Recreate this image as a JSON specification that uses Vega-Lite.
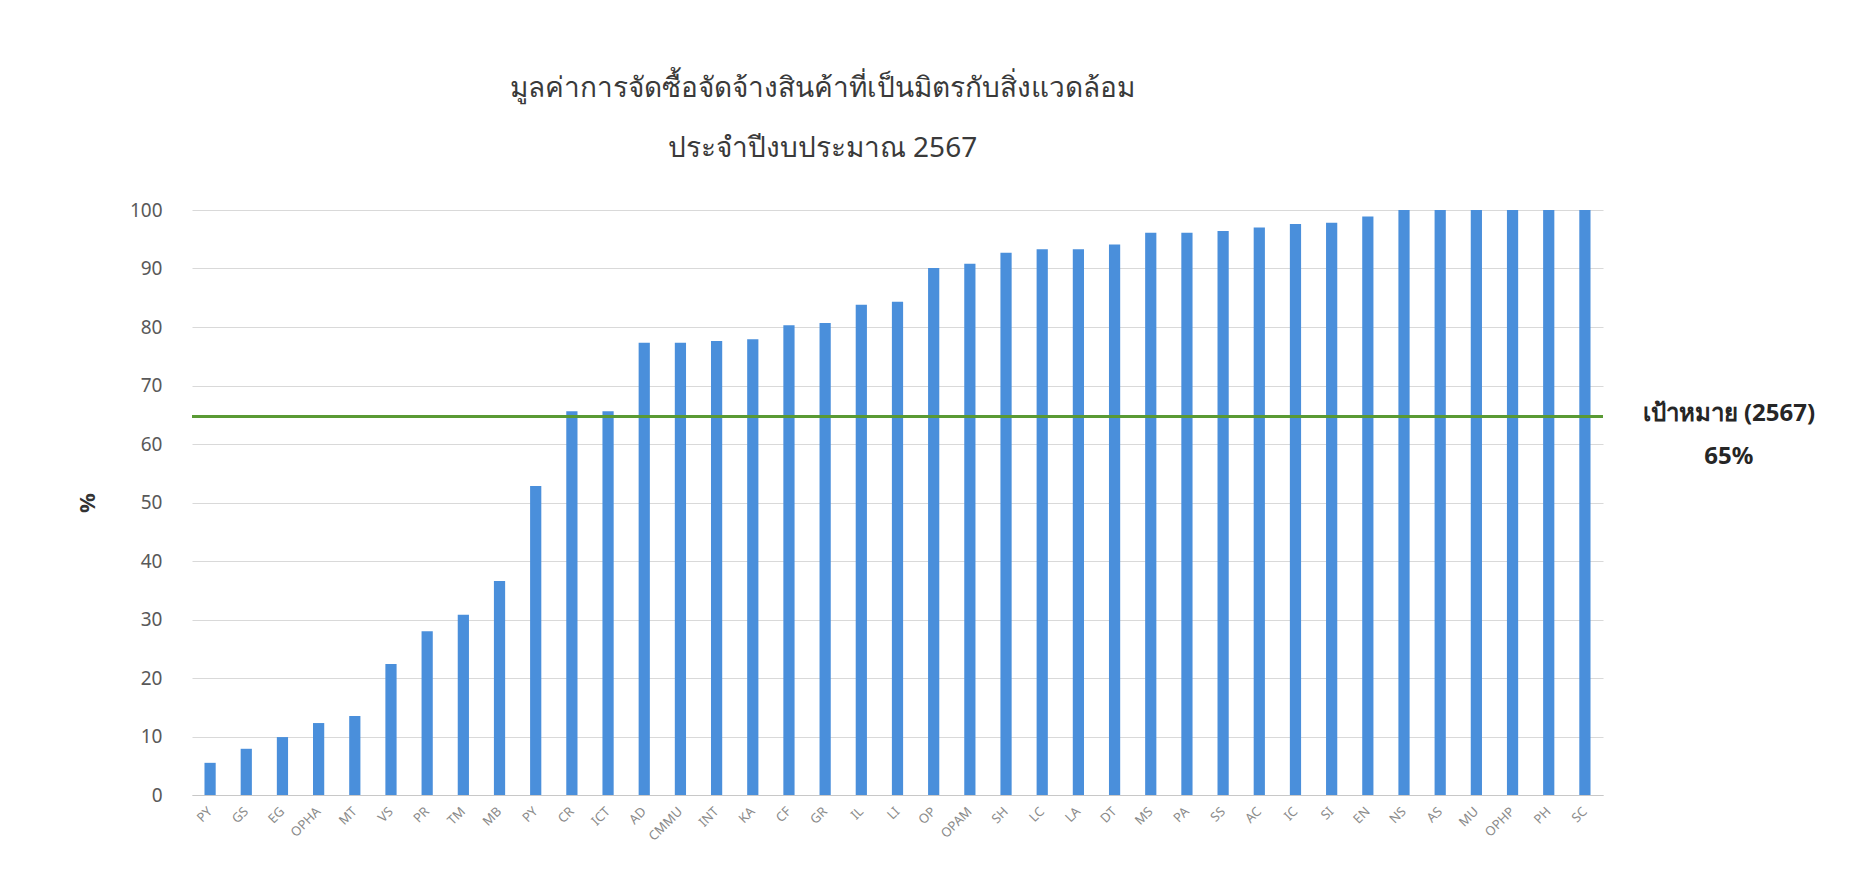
{
  "$schema": "https://vega.github.io/schema/vega-lite/v6.json",
  "autosize": {"type": "none"},
  "width": 1411,
  "height": 585,
  "padding": {"left": 192, "top": 210, "right": 258, "bottom": 85},
  "background": "white",
  "config": {"view": {"stroke": null}, "font": "Noto Sans"},
  "title": {
    "text": "มูลค่าการจัดซื้อจัดจ้างสินค้าที่เป็นมิตรกับสิ่งแวดล้อม",
    "subtitle": "ประจำปีงบประมาณ 2567",
    "anchor": "middle",
    "dx": -75,
    "offset": 38,
    "fontSize": 28,
    "fontWeight": "normal",
    "color": "#3a3a3a",
    "subtitleFontSize": 28,
    "subtitleColor": "#3a3a3a",
    "subtitlePadding": 32
  },
  "data": {"values": [
    {"code": "PY", "pct": 5.5},
    {"code": "GS", "pct": 7.9},
    {"code": "EG", "pct": 9.9},
    {"code": "OPHA", "pct": 12.3},
    {"code": "MT", "pct": 13.5},
    {"code": "VS", "pct": 22.4},
    {"code": "PR", "pct": 28.0},
    {"code": "TM", "pct": 30.8},
    {"code": "MB", "pct": 36.6},
    {"code": "PY\u200b", "pct": 52.8},
    {"code": "CR", "pct": 65.6},
    {"code": "ICT", "pct": 65.6},
    {"code": "AD", "pct": 77.3},
    {"code": "CMMU", "pct": 77.3},
    {"code": "INT", "pct": 77.6},
    {"code": "KA", "pct": 77.9},
    {"code": "CF", "pct": 80.3},
    {"code": "GR", "pct": 80.7},
    {"code": "IL", "pct": 83.8},
    {"code": "LI", "pct": 84.3},
    {"code": "OP", "pct": 90.1},
    {"code": "OPAM", "pct": 90.8},
    {"code": "SH", "pct": 92.7},
    {"code": "LC", "pct": 93.3},
    {"code": "LA", "pct": 93.3},
    {"code": "DT", "pct": 94.1},
    {"code": "MS", "pct": 96.1},
    {"code": "PA", "pct": 96.1},
    {"code": "SS", "pct": 96.4},
    {"code": "AC", "pct": 97.0},
    {"code": "IC", "pct": 97.6},
    {"code": "SI", "pct": 97.8},
    {"code": "EN", "pct": 98.9},
    {"code": "NS", "pct": 100},
    {"code": "AS", "pct": 100},
    {"code": "MU", "pct": 100},
    {"code": "OPHP", "pct": 100},
    {"code": "PH", "pct": 100},
    {"code": "SC", "pct": 100}
  ]},
  "layer": [
    {
      "mark": {"type": "bar", "color": "#4A8FDB"},
      "encoding": {
        "x": {
          "field": "code", "type": "nominal", "sort": null,
          "scale": {"paddingInner": 0.69, "paddingOuter": 0.345},
          "axis": {
            "title": null, "labelAngle": 315, "labelAlign": "right",
            "labelBaseline": "middle", "labelFontSize": 13,
            "labelColor": "#8a8a8a", "ticks": false, "labelPadding": 14,
            "domainColor": "#c8c8c8", "domainWidth": 1
          }
        },
        "y": {
          "field": "pct", "type": "quantitative",
          "scale": {"domain": [0, 100], "nice": false},
          "axis": {
            "title": "%", "titleFontSize": 22, "titleFontWeight": "bold",
            "titleColor": "#333333", "titlePadding": 30,
            "values": [0, 10, 20, 30, 40, 50, 60, 70, 80, 90, 100],
            "labelFontSize": 19, "labelColor": "#595959", "labelPadding": 30,
            "ticks": false, "domain": false,
            "gridColor": "#d9d9d9", "gridWidth": 1
          }
        }
      }
    },
    {
      "mark": {"type": "rule", "color": "#5A9A34", "strokeWidth": 2.5},
      "encoding": {"y": {"datum": 64.7}}
    },
    {
      "data": {"values": [{"code": "SC", "pct": 64.7}]},
      "mark": {
        "type": "text", "text": ["เป้าหมาย (2567)", "65%"],
        "fontSize": 24, "fontWeight": "bold", "color": "#262626",
        "align": "center", "baseline": "top", "lineHeight": 43,
        "dx": 144, "dy": -15
      },
      "encoding": {
        "x": {"field": "code", "type": "nominal", "sort": null},
        "y": {"field": "pct", "type": "quantitative"}
      }
    }
  ]
}
